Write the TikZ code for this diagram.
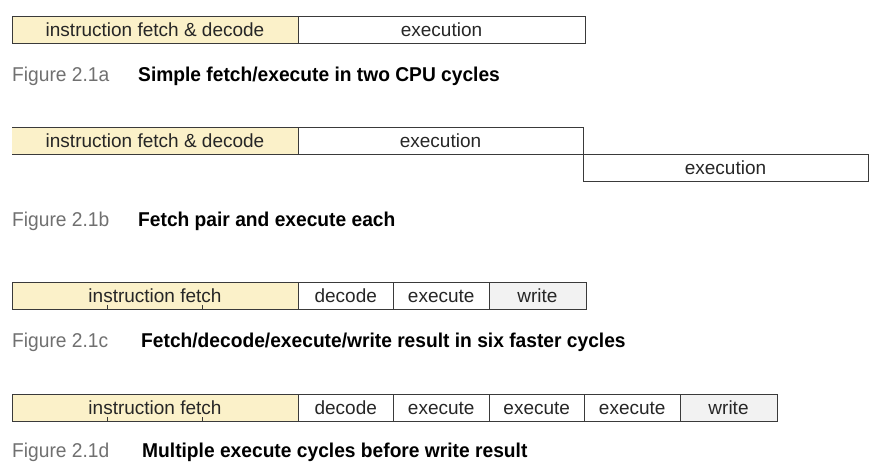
\documentclass[tikz,border=0pt]{standalone}
\usepackage{fontspec}
\setmainfont{Liberation Sans}
\newfontfamily\capfont[FakeStretch=0.96]{Liberation Sans}
\usetikzlibrary{positioning}

\definecolor{fetchyel}{HTML}{FBF1C9}
\definecolor{writegray}{HTML}{F2F2F2}
\definecolor{edgegray}{HTML}{3A3A3A}
\definecolor{capgray}{HTML}{707070}

\begin{document}
\begin{tikzpicture}[x=1pt,y=-1pt,node distance=0pt,
  cell/.style={draw=edgegray,line width=0.9pt,minimum height=27pt,inner sep=0pt,
    outer sep=0pt,text height=16.5pt,text depth=2pt,
    font=\fontsize{19}{21}\selectfont,text=black!85},
  fetchcell/.style={cell,fill=fetchyel,minimum width=286pt},
  stepcell/.style={cell,fill=white,minimum width=95.5pt},
  writecell/.style={cell,fill=writegray,minimum width=97pt},
  fignum/.style={anchor=base west,inner sep=0pt,text=capgray,
    font=\capfont\fontsize{20}{22}\selectfont},
  figtitle/.style={anchor=base west,inner sep=0pt,text=black,
    font=\capfont\bfseries\fontsize{20}{22}\selectfont}]

  \useasboundingbox (0,0) rectangle (890,472);

  % 2.1a
  \node[fetchcell,anchor=north west] (fa) at (12,16) {instruction fetch \& decode};
  \node[cell,minimum width=287pt,right=of fa] (ea) {execution};
  \node[fignum] (na) at (12,81) {Figure 2.1a};
  \node[figtitle] (ta) at (138,81) {Simple fetch/execute in two CPU cycles};

  % 2.1b (open on the left side)
  \node[fetchcell,draw=none,anchor=north west] (fb) at (12,127) {instruction fetch \& decode};
  \node[cell,draw=none,minimum width=285pt,right=of fb] (eb) {execution};
  \node[cell,minimum width=285pt,anchor=north west] (ebb) at (eb.south east) {execution};
  \draw[draw=edgegray,line width=0.9pt] (fb.north west) -- (eb.north east) -- (eb.south east)
    -- (fb.south west);
  \draw[draw=edgegray,line width=0.9pt] (fb.north east) -- (fb.south east);
  \node[fignum] (nb) at (12,226) {Figure 2.1b};
  \node[figtitle] (tb) at (138,226) {Fetch pair and execute each};

  % 2.1c
  \node[fetchcell,anchor=north west] (fc) at (12,282) {instruction fetch};
  \node[stepcell,right=of fc] (dc) {decode};
  \node[stepcell,right=of dc] (xc) {execute};
  \node[writecell,right=of xc] (wc) {write};
  \draw[draw=edgegray] (107.5,309) -- (107.5,305) (202.5,309) -- (202.5,305);
  \node[fignum] (nc) at (12,347) {Figure 2.1c};
  \node[figtitle] (tc) at (141,347) {Fetch/decode/execute/write result in six faster cycles};

  % 2.1d
  \node[fetchcell,anchor=north west] (fd) at (12,394) {instruction fetch};
  \node[stepcell,right=of fd] (dd) {decode};
  \node[stepcell,right=of dd] (xd1) {execute};
  \node[stepcell,right=of xd1] (xd2) {execute};
  \node[stepcell,right=of xd2] (xd3) {execute};
  \node[writecell,right=of xd3] (wd) {write};
  \draw[draw=edgegray] (107.5,421) -- (107.5,417) (202.5,421) -- (202.5,417);
  \node[fignum] (nd) at (12,457) {Figure 2.1d};
  \node[figtitle] (td) at (142,457) {Multiple execute cycles before write result};

\end{tikzpicture}
\end{document}
